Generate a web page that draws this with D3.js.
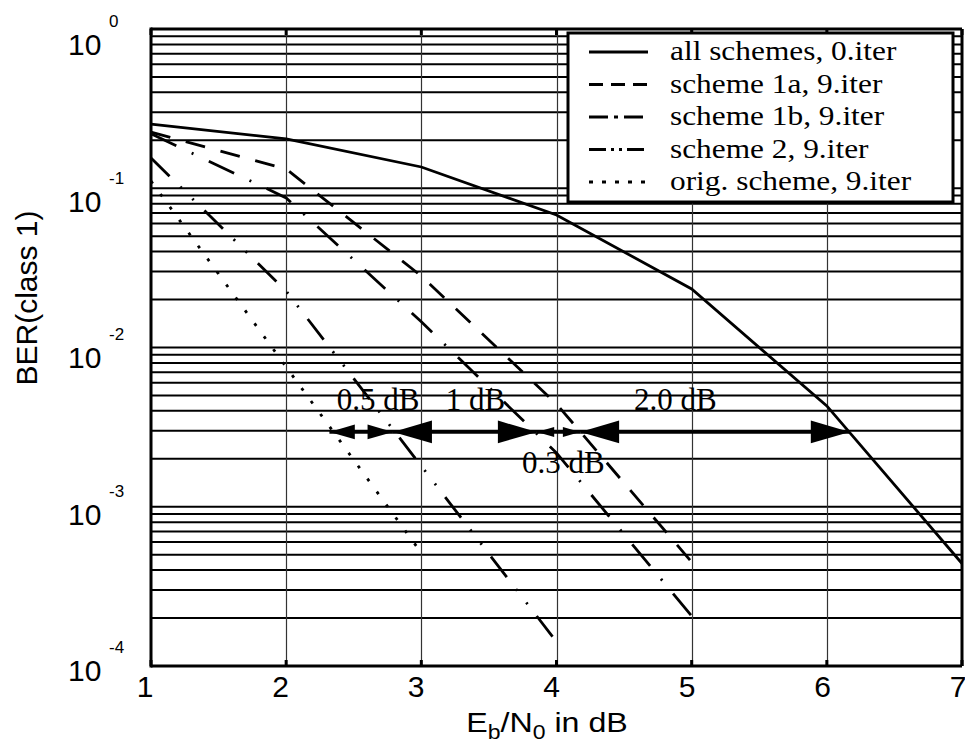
<!DOCTYPE html>
<html>
<head>
<meta charset="utf-8">
<script src="https://cdn.jsdelivr.net/npm/d3@7"></script>
<style>
  body { margin: 0; background: #fff; }
  svg { display: block; }
  .sans { font-family: "Liberation Sans", Arial, sans-serif; }
  .serif { font-family: "Liberation Serif", "Times New Roman", serif; }
</style>
</head>
<body>
<svg id="chart" width="965" height="744"></svg>
<script>
// x axis values (Eb/N0 in dB)
const xTicks = [1, 2, 3, 4, 5, 6, 7];
const yDecades = [1, 1e-1, 1e-2, 1e-3, 1e-4];
const yExponents = ["0", "-1", "-2", "-3", "-4"];

// series
const snrAll = [1, 2, 3, 4, 5, 6, 7];
const berAll = [0.253, 0.204, 0.136, 0.068, 0.0233, 0.0043, 0.00044];
const snr1a = [1, 2, 3, 4, 5];
const ber1a = [0.225, 0.132, 0.0281, 0.00442, 0.00045];
const snr1b = [1, 2, 3, 4, 5];
const ber1b = [0.22, 0.087, 0.0145, 0.00218, 0.000206];
const snr2 = [1, 2, 3, 4];
const ber2 = [0.155, 0.0226, 0.0018, 0.000142];
const snrOrig = [1, 2, 3];
const berOrig = [0.111, 0.00755, 0.000513];

const seriesNames = ["all schemes, 0.iter", "scheme 1a, 9.iter", "scheme 1b, 9.iter",
  "scheme 2, 9.iter", "orig. scheme, 9.iter"];

// gain annotations at BER = 3e-3
const gapBer = 2.95e-3;
const gapLabels = ["0.5 dB", "1 dB", "0.3 dB", "2.0 dB"];
const gapFrom = [2.32, 2.79, 3.855, 4.175];
const gapTo = [2.79, 3.855, 4.175, 6.17];
const gapLabelAt = [2.68, 3.40, 4.05, 4.88];
const gapBelow = [false, false, true, false];

const svg = d3.select("#chart");
const margin = { top: 29, right: 3, bottom: 78, left: 151 };
const width = 965 - margin.left - margin.right,
  height = 744 - margin.top - margin.bottom;

const x = d3.scaleLinear().domain([1, 7]).range([margin.left, margin.left + width]);
const y = d3.scaleLog().domain([1, 1e-4]).range([margin.top, margin.top + height]);
// the tick labels sit on a slightly wider spacing than the grid
const xLab = d3.scaleLinear().domain([1, 7]).range([145, 958]);
const yLab = d3.scaleLog().domain([1, 1e-4]).range([55, 681]);

// grid
const minor = [];
for (let e = 0; e > -4; e--) for (let k = 1; k < 10; k++) minor.push(k * Math.pow(10, e - 1));
const grid = svg.append("g");
grid.selectAll("line.h")
  .data(minor)
  .join("line")
  .attr("x1", x(1)).attr("x2", x(7))
  .attr("y1", d => y(d)).attr("y2", d => y(d))
  .attr("stroke", "#000").attr("stroke-width", 2);
grid.selectAll("line.v")
  .data(xTicks.slice(1, -1))
  .join("line")
  .attr("x1", d => Math.round(x(d)) + 0.5).attr("x2", d => Math.round(x(d)) + 0.5)
  .attr("y1", y(1)).attr("y2", y(1e-4))
  .attr("stroke", "#333").attr("stroke-width", 1.2);

// curves
const series = [
  { xs: snrAll, ys: berAll, dash: null },
  { xs: snr1a, ys: ber1a, dash: "20,16" },
  { xs: snr1b, ys: ber1b, dash: "28,17,2,17" },
  { xs: snr2, ys: ber2, dash: "26,15,2,15,2,15" },
  { xs: snrOrig, ys: berOrig, dash: "3,13" }
];
const legendDash = [null, "14,8", "19,6,4,6", "17,5,3,5,3,5", "4,9"];

const line = d3.line().x(d => x(d[0])).y(d => y(d[1]));
svg.append("g")
  .selectAll("path")
  .data(series)
  .join("path")
  .attr("d", s => line(s.xs.map((v, i) => [v, s.ys[i]])))
  .attr("fill", "none")
  .attr("stroke", "#000")
  .attr("stroke-width", 2.8)
  .attr("stroke-dasharray", s => s.dash);

// gain arrows
const ag = svg.append("g");
gapLabels.forEach((lab, i) => {
  const a = x(gapFrom[i]), b = x(gapTo[i]), yy = y(gapBer);
  const L = Math.min(39, 0.4 * (b - a)), W = L * 0.29;
  ag.append("line")
    .attr("x1", a).attr("x2", b).attr("y1", yy).attr("y2", yy)
    .attr("stroke", "#000").attr("stroke-width", 3.5);
  ag.append("path")
    .attr("d", `M${a},${yy}L${a + L},${yy - W}L${a + L},${yy + W}Z`);
  ag.append("path")
    .attr("d", `M${b},${yy}L${b - L},${yy - W}L${b - L},${yy + W}Z`);
  ag.append("text")
    .attr("class", "serif")
    .attr("x", x(gapLabelAt[i]))
    .attr("y", gapBelow[i] ? yy + 41 : yy - 22)
    .attr("text-anchor", "middle")
    .attr("font-size", 31)
    .text(lab);
});

// frame
const fr = svg.append("g").attr("stroke", "#000").attr("stroke-width", 3);
fr.append("line").attr("x1", x(1)).attr("x2", x(1)).attr("y1", y(1) - 1.5).attr("y2", y(1e-4) + 1.5);
fr.append("line").attr("x1", x(1)).attr("x2", x(7)).attr("y1", y(1)).attr("y2", y(1));
fr.append("line").attr("x1", x(1)).attr("x2", x(7)).attr("y1", y(1e-4)).attr("y2", y(1e-4));
fr.append("line").attr("x1", x(7)).attr("x2", x(7)).attr("y1", y(1)).attr("y2", y(1e-4));
fr.selectAll("line.tt")
  .data(xTicks)
  .join("line")
  .attr("x1", d => x(d)).attr("x2", d => x(d))
  .attr("y1", y(1)).attr("y2", y(1) + 6);
fr.selectAll("line.tb")
  .data(xTicks)
  .join("line")
  .attr("x1", d => x(d)).attr("x2", d => x(d))
  .attr("y1", y(1e-4)).attr("y2", y(1e-4) - 6);

// x tick labels
svg.append("g")
  .selectAll("text")
  .data(xTicks)
  .join("text")
  .attr("class", "sans")
  .attr("x", d => xLab(d))
  .attr("y", 697)
  .attr("text-anchor", "middle")
  .attr("font-size", 30)
  .text(d => d);

// y tick labels 10^k
const yl = svg.append("g").attr("class", "sans");
yl.selectAll("text.base")
  .data(yDecades)
  .join("text")
  .attr("x", 68)
  .attr("y", d => yLab(d))
  .attr("font-size", 30)
  .text("10");
yl.selectAll("text.exp")
  .data(yDecades)
  .join("text")
  .attr("x", 109)
  .attr("y", d => yLab(d) - 28)
  .attr("font-size", 17)
  .text((d, i) => yExponents[i]);

// axis titles
const xt = svg.append("text")
  .attr("class", "sans")
  .attr("transform", "translate(547,732) scale(1.15,1)")
  .attr("text-anchor", "middle")
  .attr("font-size", 28);
xt.append("tspan").text("E");
xt.append("tspan").attr("dy", 7).attr("font-size", 20).text("b");
xt.append("tspan").attr("dy", -7).text("/N");
xt.append("tspan").attr("dy", 7).attr("font-size", 20).text("0");
xt.append("tspan").attr("dy", -7).text(" in dB");

svg.append("text")
  .attr("class", "sans")
  .attr("transform", "translate(37,298) rotate(-90)")
  .attr("text-anchor", "middle")
  .attr("font-size", 30)
  .text("BER(class 1)");

// legend
const lg = svg.append("g").attr("transform", "translate(568,33)");
lg.append("rect")
  .attr("width", 385).attr("height", 169)
  .attr("fill", "#fff").attr("stroke", "#000").attr("stroke-width", 3);
const item = lg.selectAll("g.item")
  .data(seriesNames)
  .join("g")
  .attr("transform", (d, i) => `translate(0,${19 + i * 32.5})`);
item.append("line")
  .attr("x1", 21).attr("x2", 80)
  .attr("stroke", "#000").attr("stroke-width", 3)
  .attr("stroke-dasharray", (d, i) => legendDash[i]);
item.append("text")
  .attr("class", "serif")
  .attr("transform", "translate(102,8) scale(1.12,1)")
  .attr("font-size", 28)
  .text(d => d);
</script>
</body>
</html>
